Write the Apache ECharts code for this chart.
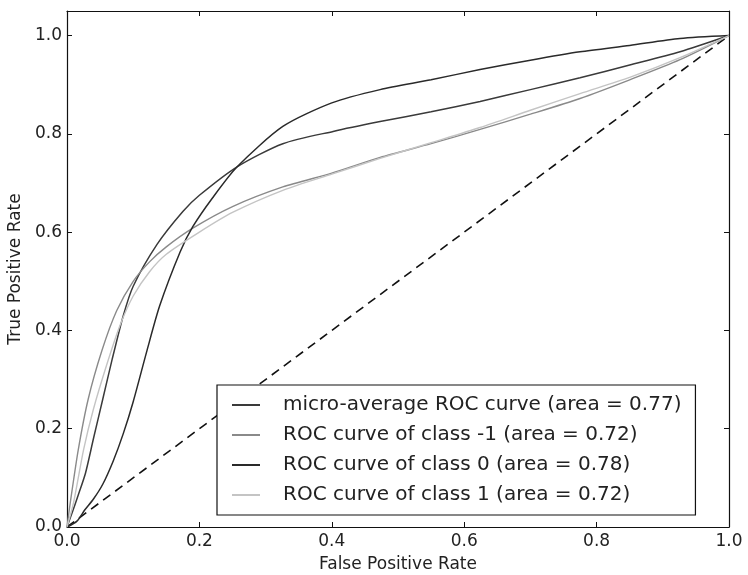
<!DOCTYPE html>
<html>
<head>
<meta charset="utf-8">
<script src="https://cdn.jsdelivr.net/npm/echarts@6/dist/echarts.min.js"></script>
<style>html,body{margin:0;padding:0;background:#fff}#c{width:748px;height:575px}</style>
</head>
<body>
<div id="c"></div>
<script>
// FPR / TPR pairs
const microFpr = [0,0.008,0.017,0.028,0.04,0.054,0.068,0.085,0.1,0.136,0.175,0.2,0.257,0.326,0.402,0.473,0.55,0.624,0.7,0.775,0.85,0.926,1];
const microTpr = [0,0.03,0.065,0.11,0.18,0.26,0.34,0.43,0.49,0.575,0.642,0.675,0.733,0.78,0.805,0.825,0.845,0.866,0.89,0.914,0.94,0.967,1];
const negFpr = [0,0.005,0.017,0.032,0.053,0.075,0.1,0.125,0.15,0.19,0.25,0.326,0.4,0.473,0.55,0.624,0.7,0.775,0.85,0.926,1];
const negTpr = [0,0.05,0.157,0.26,0.36,0.44,0.5,0.54,0.57,0.608,0.652,0.692,0.72,0.752,0.78,0.809,0.84,0.872,0.91,0.951,1];
const zeroFpr = [0,0.015,0.027,0.04,0.054,0.07,0.085,0.1,0.121,0.14,0.171,0.19,0.22,0.257,0.326,0.4,0.473,0.55,0.624,0.7,0.775,0.85,0.926,1];
const zeroTpr = [0,0.012,0.035,0.057,0.087,0.135,0.19,0.255,0.36,0.45,0.56,0.611,0.67,0.733,0.815,0.863,0.89,0.91,0.931,0.95,0.967,0.98,0.994,1];
const oneFpr = [0,0.01,0.025,0.04,0.06,0.08,0.1,0.125,0.15,0.2,0.25,0.326,0.4,0.473,0.55,0.624,0.7,0.775,0.85,0.926,1];
const oneTpr = [0,0.05,0.157,0.24,0.33,0.41,0.47,0.52,0.555,0.6,0.64,0.685,0.718,0.75,0.782,0.813,0.848,0.882,0.915,0.955,1];
const chanceFpr = [0,1];
const chanceTpr = [0,1];
const seriesNames = [
  'micro-average ROC curve (area = 0.77)',
  'ROC curve of class -1 (area = 0.72)',
  'ROC curve of class 0 (area = 0.78)',
  'ROC curve of class 1 (area = 0.72)'
];
const tickValues = [0,0.2,0.4,0.6,0.8,1.0];

const zip = (a,b) => a.map((v,i)=>[v,b[i]]);
const font = 'DejaVu Sans';
const chart = echarts.init(document.getElementById('c'), null, {renderer:'canvas'});
const axisCommon = {
  type:'value', min:0, interval:0.2,
  axisLine:{show:true, onZero:false, lineStyle:{color:'#111', width:1.2}},
  axisTick:{show:true, inside:true, length:5, lineStyle:{color:'#111'}},
  splitLine:{show:false}
};
const lbl = v => tickValues.some(t=>Math.abs(t-v)<1e-9) ? v.toFixed(1) : '';
const mk = (name, data, color, w) => ({
  name, type:'line', data, symbol:'none', smooth:0.25,
  lineStyle:{color, width:w}, itemStyle:{color}, z:3
});
chart.setOption({
  backgroundColor:'#fff',
  animation:false,
  grid:{left:67, right:19, top:11, bottom:48, containLabel:false, outerBoundsMode:'none'},
  xAxis:[
    Object.assign({}, axisCommon, {max:1, position:'bottom',
      name:'False Positive Rate', nameLocation:'middle', nameGap:29,
      nameTextStyle:{fontFamily:font, fontSize:17, color:'#222'},
      axisLabel:{fontFamily:font, fontSize:17, color:'#222', margin:6, formatter:lbl}}),
    Object.assign({}, axisCommon, {max:1, position:'top', axisLabel:{show:false}})
  ],
  yAxis:[
    Object.assign({}, axisCommon, {max:1.05, position:'left',
      name:'True Positive Rate', nameLocation:'middle', nameGap:41,
      nameTextStyle:{fontFamily:font, fontSize:17, color:'#222'},
      axisLabel:{fontFamily:font, fontSize:17, color:'#222', margin:5, formatter:lbl}}),
    Object.assign({}, axisCommon, {max:1.05, position:'right', axisLabel:{show:false}})
  ],
  legend:{
    data:seriesNames, orient:'vertical', left:217, top:385,
    icon:'rect', itemWidth:28, itemHeight:2, itemGap:8,
    padding:[9,14,9,15],
    borderColor:'#111', borderWidth:1.2, backgroundColor:'#fff',
    textStyle:{fontFamily:font, fontSize:20, color:'#222', lineHeight:22, padding:[0,0,0,18]}
  },
  series:[
    {name:'chance', type:'line', data:zip(chanceFpr,chanceTpr), symbol:'none',
     lineStyle:{color:'#111', width:1.6, type:[9,6]}, z:2},
    mk(seriesNames[0], zip(microFpr,microTpr), '#3a3a3a', 1.5),
    mk(seriesNames[1], zip(negFpr,negTpr), '#8a8a8a', 1.4),
    mk(seriesNames[2], zip(zeroFpr,zeroTpr), '#2a2a2a', 1.5),
    mk(seriesNames[3], zip(oneFpr,oneTpr), '#c4c4c4', 1.4)
  ]
});
</script>
</body>
</html>
